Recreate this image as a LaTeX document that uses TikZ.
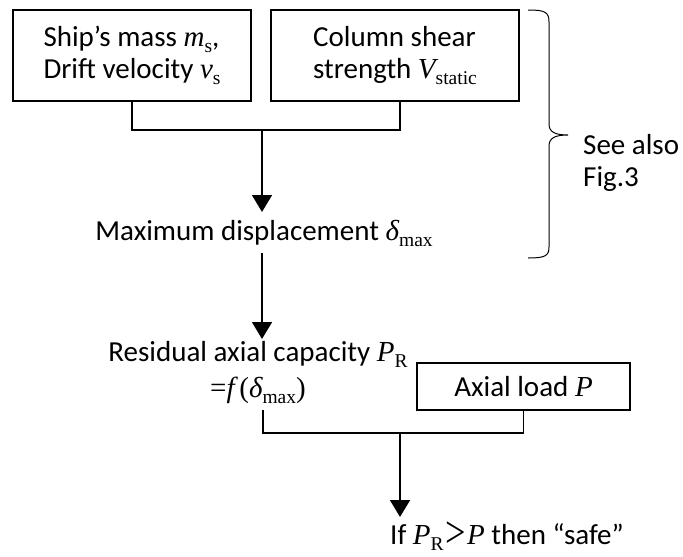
\documentclass[tikz,border=0pt]{standalone}
\usepackage{fontspec}
\usepackage{graphicx}
\setmainfont{Carlito}
\newfontfamily\tms{Liberation Serif}
\usetikzlibrary{arrows.meta}
\newcommand{\vi}[1]{{\tms\itshape #1}}
\newcommand{\sbs}[1]{\raisebox{-0.22em}{\tms\fontsize{19.5}{19.5}\selectfont #1}}
\newcommand{\bigger}{{\tms\kern1.5pt\raisebox{-0.12em}{\scalebox{1.25}[1.55]{>}}\kern1.5pt}}
\tikzset{
  base/.style={font=\fontsize{29}{32}\selectfont, inner sep=0pt},
  boxed/.style={base, draw, line width=2.2pt, align=left},
  conn/.style={line width=1.6pt},
  arr/.style={conn, -{Triangle[width=20pt,length=17pt]}},
}
\begin{document}
\begin{tikzpicture}[x=1pt,y=-1pt]
\useasboundingbox (0,0) rectangle (683,557);
\node[boxed, minimum width=238pt, minimum height=91pt] (b1) at (132,55.5)
  {Ship's mass \vi{m}\sbs{s},\\Drift velocity \vi{v}\sbs{s}};
\node[boxed, minimum width=248pt, minimum height=91pt] (b2) at (395,55.5)
  {Column shear\\strength \vi{V}\sbs{static}};
\coordinate (j) at (262,130);
\draw[conn] (b1.south) |- (j) -| ([xshift=5pt]b2.south);
\node[base, anchor=base] (md) at (264,240) {Maximum displacement \vi{δ}\sbs{max}};
\draw[arr] (j) -- (j |- 0,212);
\draw[arr] (262,253) -- (262,339);
\node[base, anchor=base, align=center, font=\fontsize{29}{36}\selectfont] (rc) at (258,397)
  {Residual axial capacity \vi{P}\sbs{R}\\{\tms=\vi{f}\,(\vi{δ}\sbs{max})}};
\node[boxed, minimum width=213pt, minimum height=47pt] (ax) at (523.5,386.5) {Axial load \vi{P}};
\coordinate (k) at (400,433);
\draw[conn] ([xshift=5pt]rc.south) ++(0,6) |- (k) -| (ax.south);
\node[base, anchor=base] (fin) at (507,544) {If \vi{P}\sbs{R}\bigger\vi{P} then “safe”};
\draw[arr] (k) -- (k |- 0,517);
\draw[line width=1pt] (528,10) .. controls (545,10) and (549,12) .. (549,22) -- (549,124)
  .. controls (549,132) and (555,135) .. (568,135) .. controls (555,135) and (549,138) .. (549,146)
  -- (549,247) .. controls (549,256) and (545,258) .. (528,258);
\node[base, anchor=west, align=left] (see) at (583,163) {See also\\Fig.3};
\end{tikzpicture}
\end{document}
